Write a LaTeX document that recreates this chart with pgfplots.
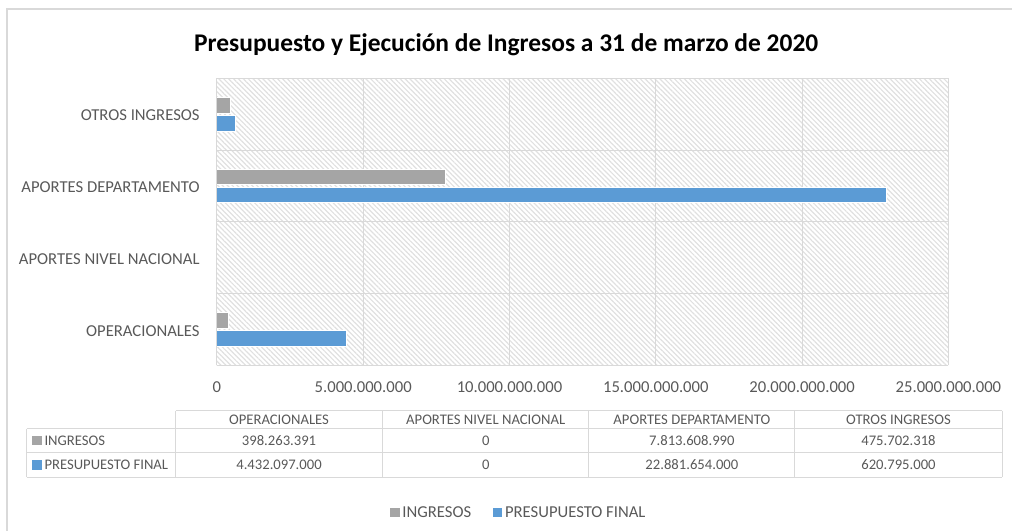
\documentclass[border=0pt]{standalone}
\usepackage{pgfplots}
\pgfplotsset{compat=1.18}
\usepackage{fontspec}
\setmainfont{Carlito}
\usetikzlibrary{patterns.meta}
\definecolor{txt}{HTML}{595959}
\definecolor{gridc}{HTML}{D9D9D9}
\definecolor{hatch}{HTML}{E0E0E0}
\definecolor{sgray}{HTML}{A5A5A5}
\definecolor{sblue}{HTML}{5B9BD5}
\begin{document}
\begin{tikzpicture}
\begin{scope}[x=0.75pt,y=-0.75pt]
\path (0,0) rectangle (1013,531);
\draw[gridc, line width=0.9pt] (7,531) -- (7,9) -- (1013,9);
\node[font=\fontsize{19.1}{22}\selectfont\bfseries, text=black] at (506.5,45) {Presupuesto y Ejecución de Ingresos a 31 de marzo de 2020};
% data table
\begin{scope}[gridc, line width=0.75pt]
\draw (175.7,411) -- (1002.7,411);
\draw (26.7,429) -- (1002.7,429);
\draw (26.7,452.7) -- (1002.7,452.7);
\draw (26.7,477.7) -- (1002.7,477.7);
\draw (26.7,429) -- (26.7,477.7);
\foreach \xx in {175.7,382.7,589.3,795.3,1002.7} {\draw (\xx,411) -- (\xx,477.7);}
\end{scope}
\begin{scope}[every node/.style={font=\fontsize{11}{13}\selectfont, text=txt, inner sep=0pt}]
\node at (279.2,420) {OPERACIONALES};
\node at (486,420) {APORTES NIVEL NACIONAL};
\node at (692.3,420) {APORTES DEPARTAMENTO};
\node at (899,420) {OTROS INGRESOS};
\fill[sgray] (32.3,436.2) rectangle (41.7,445.6);
\node[anchor=west] at (44.3,441) {INGRESOS};
\fill[sblue] (32.3,460.6) rectangle (41.7,470);
\node[anchor=west] at (44.3,465.3) {PRESUPUESTO FINAL};
\node at (279.2,441) {398.263.391};
\node at (486,441) {0};
\node at (692.3,441) {7.813.608.990};
\node at (899,441) {475.702.318};
\node at (279.2,465.3) {4.432.097.000};
\node at (486,465.3) {0};
\node at (692.3,465.3) {22.881.654.000};
\node at (899,465.3) {620.795.000};
\end{scope}
\end{scope}
\begin{axis}[
  at={(162.75pt,-274.275pt)}, anchor=south west,
  scale only axis, width=549pt, height=215.55pt,
  xbar, bar width=11.7pt,
  xmin=0, xmax=25e9, ymin=-0.5, ymax=3.5,
  axis background/.style={pattern={Lines[angle=-45,distance=2.6pt,line width=0.9pt]}, pattern color=hatch},
  axis line style={draw=none},
  xtick={0,5e9,10e9,15e9,20e9,25e9},
  xticklabels={0,5.000.000.000,10.000.000.000,15.000.000.000,20.000.000.000,25.000.000.000},
  scaled x ticks=false,
  xmajorgrids, major grid style={gridc, line width=0.75pt},
  x tick style={draw=none},
  xticklabel style={font=\fontsize{12.5}{14}\selectfont, text=txt, inner sep=0pt, anchor=north, yshift=-12pt},
  ytick={0,1,2,3},
  yticklabels={OPERACIONALES, APORTES NIVEL NACIONAL, APORTES DEPARTAMENTO, OTROS INGRESOS},
  y tick style={draw=none},
  yticklabel style={font=\fontsize{12.5}{14}\selectfont, text=txt, inner sep=0pt, anchor=east, xshift=-8.5pt, yshift=-1pt},
  extra y ticks={-0.5,0.5,1.5,2.5,3.5},
  extra y tick labels={},
  extra y tick style={grid=major, tick align=outside, major tick length=3.75pt, tick style={draw=gridc, line width=0.75pt}},
  legend columns=2,
  legend style={at={(0.413,-0.5125)}, anchor=center, draw=none, fill=none,
    font=\fontsize{12.5}{14}\selectfont, text=txt,
    /tikz/every even column/.append style={column sep=14pt},
    cells={anchor=west}, inner sep=0pt},
  legend image code/.code={\fill[#1, draw=none] (0pt,-3.6pt) rectangle (7.4pt,3.8pt);},
  clip=false,
]
\addplot[fill=sgray, draw=white, line width=0.6pt, bar shift=6.75pt] coordinates {
  (398263391,0) (0,1) (7813608990,2) (475702318,3)};
\addlegendentry{INGRESOS}
\addplot[fill=sblue, draw=white, line width=0.6pt, bar shift=-6.75pt] coordinates {
  (4432097000,0) (0,1) (22881654000,2) (620795000,3)};
\addlegendentry{PRESUPUESTO FINAL}
\draw[gridc, line width=0.75pt] (axis cs:0,-0.5) -- (axis cs:0,3.5);
\end{axis}
\end{tikzpicture}
\end{document}
